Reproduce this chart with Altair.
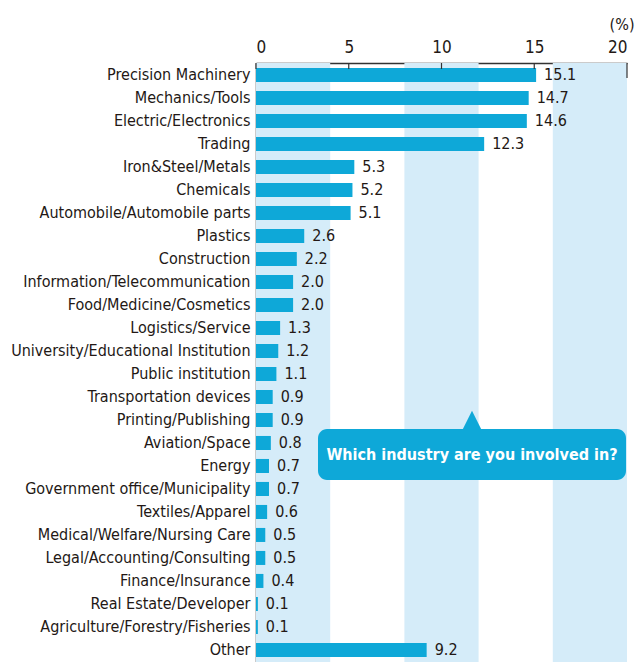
import altair as alt
import pandas as pd

industries = [
    "Precision Machinery", "Mechanics/Tools", "Electric/Electronics", "Trading",
    "Iron&Steel/Metals", "Chemicals", "Automobile/Automobile parts", "Plastics ",
    "Construction", "Information/Telecommunication", "Food/Medicine/Cosmetics",
    "Logistics/Service", "University/Educational Institution", "Public institution",
    "Transportation devices", "Printing/Publishing", "Aviation/Space", "Energy",
    "Government office/Municipality", "Textiles/Apparel", "Medical/Welfare/Nursing Care",
    "Legal/Accounting/Consulting", "Finance/Insurance", "Real Estate/Developer",
    "Agriculture/Forestry/Fisheries", "Other",
]
shares = [15.1, 14.7, 14.6, 12.3, 5.3, 5.2, 5.1, 2.6, 2.2, 2.0, 2.0, 1.3, 1.2, 1.1,
          0.9, 0.9, 0.8, 0.7, 0.7, 0.6, 0.5, 0.5, 0.4, 0.1, 0.1, 9.2]
x_ticks = [0, 5, 10, 15, 20]
stripe_starts = [0, 8, 16]
stripe_width = 4
question = "Which industry are you involved in?"

FONT = "Liberation Sans Narrow, DejaVu Sans Condensed, Roboto, sans-serif"
TXT = "#231815"
BAR = "#0ea8d8"
STRIPE = "#d5ecf9"

W = 371
H = 599

df = pd.DataFrame({"industry": industries, "share": shares})
stripes = pd.DataFrame({"x": stripe_starts, "x2": [s + stripe_width for s in stripe_starts]})
ticks = pd.DataFrame({"x": x_ticks[:-1]})
last_tick = pd.DataFrame({"x": x_ticks[-1:]})
note = pd.DataFrame({"t": [question]})

xscale = alt.Scale(domain=[0, 20], nice=False, zero=True)
yscale = alt.Scale(paddingInner=0.39, paddingOuter=0.22)

stripe_layer = alt.Chart(stripes).mark_rect(color=STRIPE).encode(
    x=alt.X("x:Q", scale=xscale,
            axis=alt.Axis(orient="top", values=x_ticks, format="d", ticks=False,
                          grid=False, domain=True, domainColor="#333333", domainWidth=1.5,
                          labelFont=FONT, labelFontSize=17, labelColor=TXT, labelPadding=7,
                          title="(%)", titleFont=FONT, titleFontSize=16, titleFontWeight="normal",
                          titleColor=TXT, titleAngle=0, titleAlign="right", titleAnchor="start",
                          titleX=W + 7, titleY=-34, titleBaseline="alphabetic")),
    x2="x2:Q",
    y=alt.value(0),
    y2=alt.value(H),
)

bars = alt.Chart(df).mark_bar(color=BAR).encode(
    y=alt.Y("industry:N", sort=None, scale=yscale, title=None,
            axis=alt.Axis(ticks=False, labelPadding=6, labelFont=FONT, labelFontSize=16,
                          labelColor=TXT, domainColor="#333333", domainWidth=1.5,
                          labelLimit=400)),
    x=alt.X("share:Q", scale=xscale),
)

labels = alt.Chart(df).mark_text(align="left", baseline="middle", dx=8, font=FONT,
                                 fontSize=16, color=TXT).encode(
    y=alt.Y("industry:N", sort=None, scale=yscale),
    x=alt.X("share:Q", scale=xscale),
    text=alt.Text("share:Q", format=".1f"),
)

tick_rules = alt.Chart(ticks).mark_rule(color="#333333", strokeWidth=1.2).encode(
    x=alt.X("x:Q", scale=xscale), y=alt.value(0), y2=alt.value(6))
end_rule = alt.Chart(last_tick).mark_rule(color="#333333", strokeWidth=1.2).encode(
    x=alt.X("x:Q", scale=xscale), y=alt.value(0), y2=alt.value(15))

box = alt.Chart(note).mark_rect(color=BAR, cornerRadius=9).encode(
    x=alt.value(62), x2=alt.value(370), y=alt.value(366), y2=alt.value(417))
pointer = alt.Chart(note).mark_point(shape="M0,-1L1,1L-1,1Z", filled=True, opacity=1,
                                     color=BAR, size=340).encode(
    x=alt.value(216), y=alt.value(357))
note_text = alt.Chart(note).mark_text(font=FONT, fontSize=16, fontWeight="bold",
                                      color="white", align="center", baseline="middle").encode(
    x=alt.value(216), y=alt.value(392), text="t:N")

chart = alt.layer(stripe_layer, bars, labels, tick_rules, end_rule, box, pointer, note_text).properties(
    width=W, height=H,
    autosize=alt.AutoSizeParams(type="none"),
    padding={"left": 248, "top": 55, "right": 8, "bottom": 0},
).configure_view(stroke=None)

chart.save("out.html", embed_options={"renderer": "svg", "actions": False})
